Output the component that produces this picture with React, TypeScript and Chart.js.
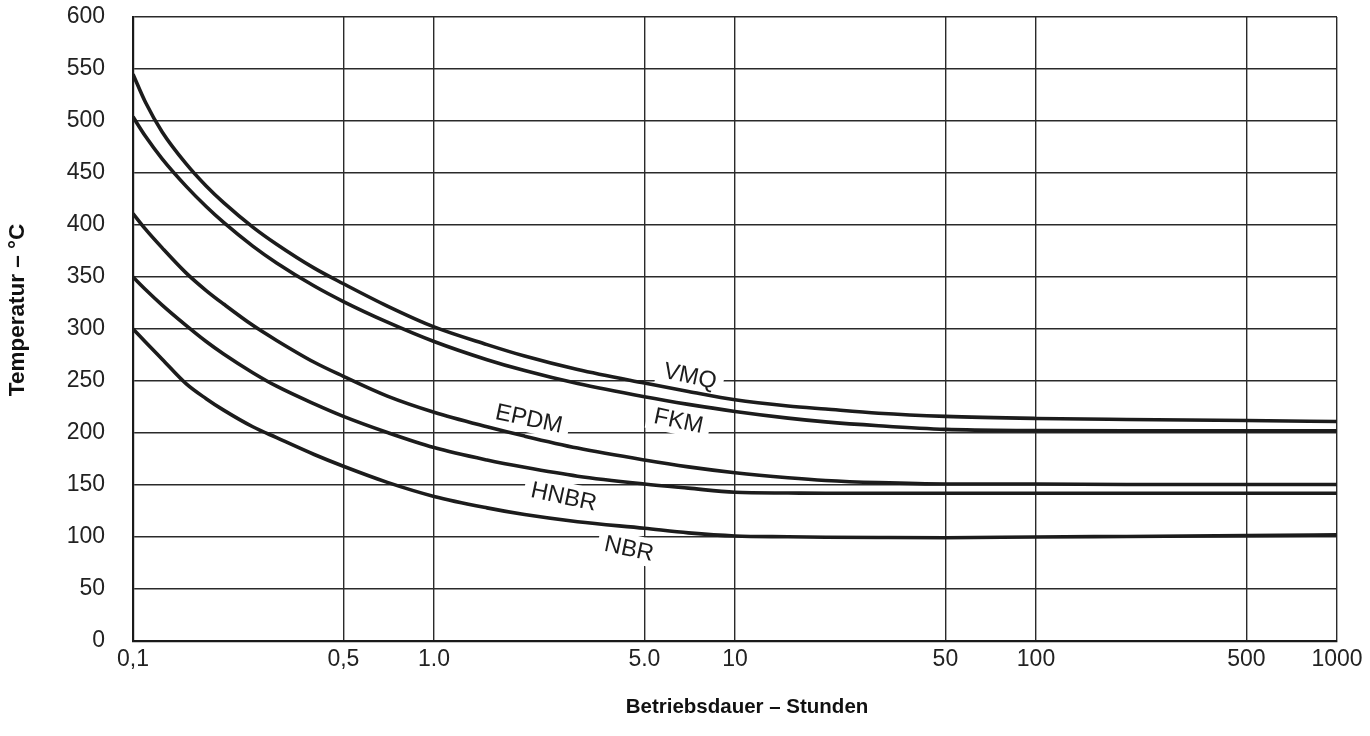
import React, { useEffect, useRef } from "react";
import { Chart, registerables } from "chart.js";

Chart.register(...registerables);

// Operating time in hours (x) and temperature limits in °C (y)
const hours = [0.1, 0.11, 0.125, 0.15, 0.175, 0.2, 0.25, 0.3, 0.4, 0.5, 0.7, 1, 1.5, 2, 3, 5, 7, 10, 15, 20, 30, 50, 100, 200, 500, 1000];
const vmq = [545, 518, 489.5, 459, 437.5, 421.5, 398, 381.5, 358.5, 343.5, 322, 302, 285, 274, 261, 248, 240, 232, 226, 223, 219, 216, 214, 213, 212, 211];
const fkm = [504, 485.3, 463.6, 437.4, 417.8, 402.5, 379.7, 363.5, 341.3, 326.4, 306.6, 288, 270.5, 260, 247.5, 234.8, 227.5, 220.7, 214.3, 210.7, 207, 203.5, 202.3, 202, 202, 202];
const epdm = [411, 396, 378, 354, 337, 324, 303.5, 289, 268, 254.5, 235.5, 220, 206, 197, 185.5, 174, 167.4, 161.8, 157, 154.4, 152.3, 151, 151, 150.5, 150.5, 150.5];
const hnbr = [350, 338, 323, 303.5, 288, 276, 258, 245, 228, 216, 200.5, 186, 174, 167, 158.5, 151, 147, 143, 142.3, 142, 142, 142, 142, 142, 142, 142];
const nbr = [300, 287.5, 271, 247.5, 233, 222, 206, 195.5, 179.3, 168, 152.5, 139, 128, 121.6, 114.7, 108.4, 104, 101, 100.2, 99.8, 99.5, 99.3, 100, 100.5, 101.3, 102];

const seriesNames = ["VMQ", "FKM", "EPDM", "HNBR", "NBR"];
const seriesValues = [vmq, fkm, epdm, hnbr, nbr];

const xTickValues = [0.1, 0.5, 1, 5, 10, 50, 100, 500, 1000];
const xTickLabels = ["0,1", "0,5", "1.0", "5.0", "10", "50", "100", "500", "1000"];

// curve label anchors (hours, °C)
const labelHours = [7.1, 6.5, 2.07, 2.7, 4.45];
const labelTemps = [255, 212, 214, 139, 89];

const xTitle = "Betriebsdauer – Stunden";
const yTitle = "Temperatur – °C";

const FONT = "'Liberation Sans', Arial, Helvetica, sans-serif";
const INK = "#1c1c1c";

const curveLabelPlugin = {
  id: "curveLabels",
  beforeDatasetsDraw(chart: any) {
    const { ctx, scales } = chart;
    const xs = scales.x;
    const ys = scales.y;
    ctx.save();
    ctx.font = `23.5px ${FONT}`;
    for (let i = 0; i < seriesNames.length; i++) {
      const px = xs.getPixelForValue(labelHours[i]);
      const py = ys.getPixelForValue(labelTemps[i]);
      const text = seriesNames[i];
      const w = ctx.measureText(text).width;
      ctx.save();
      ctx.translate(px, py);
      ctx.rotate((12 * Math.PI) / 180);
      ctx.fillStyle = "#ffffff";
      ctx.fillRect(-w / 2 - 7, -14, w + 14, 28);
      ctx.fillStyle = INK;
      ctx.textAlign = "center";
      ctx.textBaseline = "middle";
      ctx.fillText(text, 0, 1);
      ctx.restore();
    }
    ctx.restore();
  },
  afterDraw(chart: any) {
    const { ctx, chartArea } = chart;
    ctx.save();
    ctx.fillStyle = "#111";
    ctx.textAlign = "center";
    ctx.textBaseline = "middle";
    ctx.font = `bold 20.5px ${FONT}`;
    ctx.fillText(xTitle, (chartArea.left + chartArea.right) / 2 + 12, 707);
    ctx.translate(18, (chartArea.top + chartArea.bottom) / 2 - 19);
    ctx.rotate(-Math.PI / 2);
    ctx.font = `bold 22.5px ${FONT}`;
    ctx.fillText(yTitle, 0, 0);
    ctx.restore();
  },
};

export default function App() {
  const canvasRef = useRef<HTMLCanvasElement | null>(null);

  useEffect(() => {
    document.body.style.margin = "0";
    const canvas = canvasRef.current;
    if (!canvas) return;
    const chart = new Chart(canvas, {
      type: "line",
      data: {
        datasets: seriesNames.map((name, i) => ({
          label: name,
          data: hours.map((h, j) => ({ x: h, y: seriesValues[i][j] })),
          borderColor: INK,
          borderWidth: 3.6,
          pointRadius: 0,
          fill: false,
          cubicInterpolationMode: "monotone" as const,
        })),
      },
      options: {
        responsive: false,
        animation: false,
        devicePixelRatio: 1,
        layout: { padding: { top: 17, right: 33, left: 0, bottom: 0 } },
        plugins: {
          legend: { display: false },
          tooltip: { enabled: false },
        },
        scales: {
          x: {
            type: "logarithmic",
            min: 0.1,
            max: 1000,
            afterBuildTicks: (scale: any) => {
              scale.ticks = xTickValues.map((v) => ({ value: v }));
            },
            afterFit: (scale: any) => {
              scale.height = 95;
              scale.paddingLeft = 0;
              scale.paddingRight = 0;
            },
            grid: { color: "#2a2a2a", lineWidth: 1.4, drawTicks: false },
            border: { color: "#1a1a1a", width: 2.2 },
            ticks: {
              autoSkip: false,
              maxRotation: 0,
              padding: 5,
              color: "#222",
              font: { family: FONT, size: 23 },
              callback: (v: any) => {
                const k = xTickValues.indexOf(Number(v));
                return k >= 0 ? xTickLabels[k] : "";
              },
            },
          },
          y: {
            min: 0,
            max: 600,
            afterFit: (scale: any) => {
              scale.width = 133;
              scale.paddingTop = 0;
              scale.paddingBottom = 0;
            },
            grid: { color: "#2a2a2a", lineWidth: 1.4, drawTicks: false },
            border: { color: "#1a1a1a", width: 2.2 },
            ticks: {
              stepSize: 50,
              padding: 28,
              color: "#222",
              font: { family: FONT, size: 23 },
            },
          },
        },
      },
      plugins: [curveLabelPlugin],
    });
    return () => chart.destroy();
  }, []);

  return (
    <div style={{ width: 1370, height: 736, background: "#fff" }}>
      <canvas ref={canvasRef} width={1370} height={736} style={{ display: "block" }} />
    </div>
  );
}
